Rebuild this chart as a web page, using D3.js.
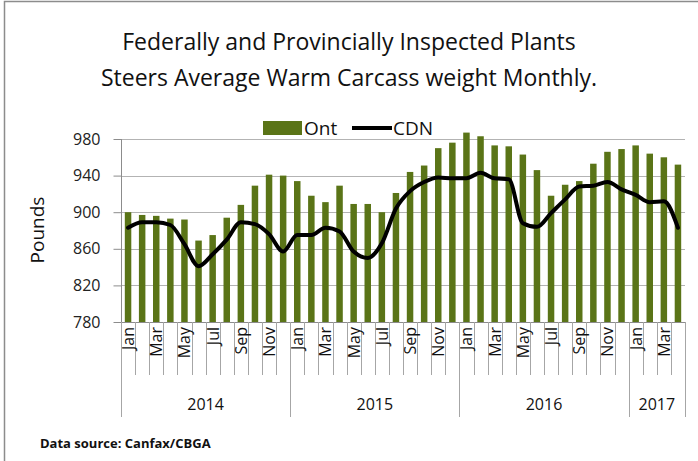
<!DOCTYPE html>
<html>
<head>
<meta charset="utf-8">
<script src="https://cdn.jsdelivr.net/npm/d3@7"></script>
<style>
  body { margin: 0; background: #fff; }
  svg { display: block; font-family: "Open Sans", sans-serif; }
</style>
</head>
<body>
<div id="chart"></div>
<script>
// month labels (only every second one is shown on the axis)
var months = ["Jan","Feb","Mar","Apr","May","Jun","Jul","Aug","Sep","Oct","Nov","Dec",
              "Jan","Feb","Mar","Apr","May","Jun","Jul","Aug","Sep","Oct","Nov","Dec",
              "Jan","Feb","Mar","Apr","May","Jun","Jul","Aug","Sep","Oct","Nov","Dec",
              "Jan","Feb","Mar","Apr"];
var years = ["2014", "2015", "2016", "2017"];
var yearCounts = [12, 12, 12, 4];

// Ontario steers (bars)
var ont = [900, 897, 896, 893, 892, 869, 875, 894, 908, 929, 941, 940,
           934, 918, 911, 929, 909, 909, 900, 921, 944, 951, 970, 976,
           987, 983, 973, 972, 963, 946, 918, 930, 934, 953, 966, 969,
           973, 964, 960, 952];

// Canada steers (line)
var cdn = [883, 889, 889, 886, 865, 841, 854, 870, 889, 887, 876, 857,
           875, 875, 883, 879, 857, 850, 866, 904, 923, 933, 938, 937,
           937, 943, 937, 936, 888, 884, 899, 914, 928, 929, 933, 925,
           919, 911, 912, 883];

var yTicks = [780, 820, 860, 900, 940, 980];

function draw() {
    var width = 698, height = 461;
    var left = 121, right = 685, top = 139, bottom = 322;

    var svg = d3.select("#chart").append("svg")
                .attr("width", width)
                .attr("height", height);

    // outer frame
    svg.append("rect")
        .attr("x", 4.5).attr("y", 1.5)
        .attr("width", 720).attr("height", 500)
        .attr("fill", "none")
        .attr("stroke", "#8c8c8c")
        .attr("stroke-width", 1.5);

    // title
    var title = svg.append("text")
        .attr("text-anchor", "middle")
        .style("font-size", "23px")
        .attr("fill", "#111");
    title.append("tspan").attr("x", 349).attr("y", 50)
        .text("Federally and Provincially Inspected Plants");
    title.append("tspan").attr("x", 349).attr("y", 86)
        .text("Steers Average Warm Carcass weight Monthly.");

    var x = d3.scaleBand()
              .domain(d3.range(months.length))
              .range([left, right])
              .paddingInner(0.54)
              .paddingOuter(0.27);

    var y = d3.scaleLinear()
              .domain([780, 980])
              .range([bottom, top]);

    var step = (right - left) / months.length;

    // gridlines
    svg.append("g").selectAll("line")
        .data(yTicks.slice(1))
        .enter().append("line")
        .attr("x1", left).attr("x2", right)
        .attr("y1", function(d) { return Math.round(y(d)) + 0.5; })
        .attr("y2", function(d) { return Math.round(y(d)) + 0.5; })
        .attr("stroke", "#b3b3b3")
        .attr("stroke-width", 1);

    // Y axis
    var yAxis = d3.axisLeft(y)
                  .tickValues(yTicks)
                  .tickSize(8)
                  .tickPadding(13);
    var gy = svg.append("g")
        .attr("transform", "translate(" + (left + 0.5) + ",0)")
        .call(yAxis);
    gy.select(".domain").attr("stroke", "#8c8c8c").attr("d", "M0," + top + "V" + bottom);
    gy.selectAll(".tick line").attr("stroke", "#8c8c8c");
    gy.selectAll(".tick text")
        .style("font-size", "16px")
        .style("font-family", "Open Sans, sans-serif")
        .attr("fill", "#222");

    // Y label
    svg.append("text")
        .attr("transform", "translate(44,230) rotate(-90)")
        .attr("text-anchor", "middle")
        .style("font-size", "19px")
        .attr("fill", "#111")
        .text("Pounds");

    // bars
    svg.append("g").selectAll("rect")
        .data(ont)
        .enter().append("rect")
        .attr("x", function(d, i) { return x(i); })
        .attr("y", function(d) { return y(d); })
        .attr("width", x.bandwidth())
        .attr("height", function(d) { return bottom - y(d); })
        .attr("fill", "#5a7417");

    // CDN line
    var line = d3.line()
                 .x(function(d, i) { return x(i) + x.bandwidth() / 2; })
                 .y(function(d) { return y(d); })
                 .curve(d3.curveMonotoneX);
    svg.append("path")
        .datum(cdn)
        .attr("d", line)
        .attr("fill", "none")
        .attr("stroke", "#000")
        .attr("stroke-width", 4)
        .attr("stroke-linejoin", "round")
        .attr("stroke-linecap", "round");

    // X axis baseline
    svg.append("line")
        .attr("x1", left).attr("x2", right)
        .attr("y1", bottom + 0.5).attr("y2", bottom + 0.5)
        .attr("stroke", "#8c8c8c");

    // month separators
    svg.append("g").selectAll("line")
        .data(d3.range(months.length + 1))
        .enter().append("line")
        .attr("x1", function(i) { return Math.round(left + i * step) + 0.5; })
        .attr("x2", function(i) { return Math.round(left + i * step) + 0.5; })
        .attr("y1", bottom)
        .attr("y2", 375)
        .attr("stroke", "#a6a6a6");

    // month labels, every second month
    var shown = d3.range(0, months.length, 2);
    svg.append("g").selectAll("text")
        .data(shown)
        .enter().append("text")
        .attr("transform", function(i) {
            return "translate(" + (x(i) + x.bandwidth() / 2 + 6) + ",327) rotate(-90)";
        })
        .attr("text-anchor", "end")
        .style("font-size", "16px")
        .attr("fill", "#111")
        .text(function(i) { return months[i]; });

    // year separators and labels
    var starts = [0];
    yearCounts.forEach(function(c, i) { starts.push(starts[i] + c); });
    svg.append("g").selectAll("line")
        .data(starts)
        .enter().append("line")
        .attr("x1", function(s) { return Math.round(left + s * step) + 0.5; })
        .attr("x2", function(s) { return Math.round(left + s * step) + 0.5; })
        .attr("y1", bottom)
        .attr("y2", 417)
        .attr("stroke", "#a6a6a6");

    svg.append("g").selectAll("text")
        .data(years)
        .enter().append("text")
        .attr("x", function(d, i) { return left + (starts[i] + yearCounts[i] / 2) * step; })
        .attr("y", 410)
        .attr("text-anchor", "middle")
        .style("font-size", "16px")
        .attr("fill", "#111")
        .text(function(d) { return d; });

    // legend
    var lg = svg.append("g");
    lg.append("rect")
        .attr("x", 263).attr("y", 121)
        .attr("width", 39).attr("height", 14)
        .attr("fill", "#5a7417");
    lg.append("text")
        .attr("x", 304).attr("y", 135)
        .style("font-size", "19px")
        .attr("fill", "#111")
        .text("Ont");
    lg.append("line")
        .attr("x1", 352).attr("x2", 392)
        .attr("y1", 128).attr("y2", 128)
        .attr("stroke", "#000")
        .attr("stroke-width", 4);
    lg.append("text")
        .attr("x", 393).attr("y", 135)
        .style("font-size", "19px")
        .attr("fill", "#111")
        .text("CDN");

    // source
    svg.append("text")
        .attr("x", 40).attr("y", 448)
        .style("font-size", "13px")
        .style("font-weight", "bold")
        .attr("fill", "#111")
        .text("Data source: Canfax/CBGA");
}

window.onload = draw;
</script>
</body>
</html>
